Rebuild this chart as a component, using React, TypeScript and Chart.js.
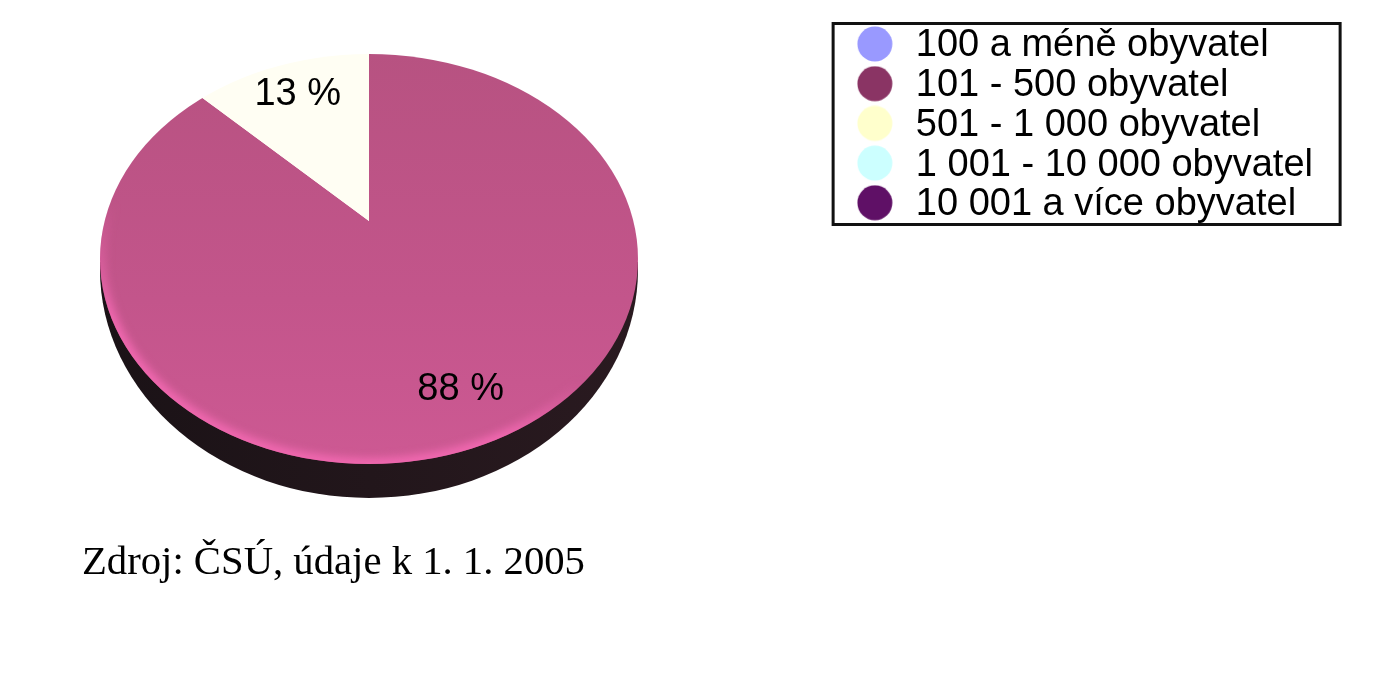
import React, { useEffect, useRef } from "react";
import { Chart, registerables } from "chart.js";

Chart.register(...registerables);

const categories = [
  "100 a méně obyvatel",
  "101 - 500 obyvatel",
  "501 - 1 000 obyvatel",
  "1 001 - 10 000 obyvatel",
  "10 001 a více obyvatel",
];
const shares = [0, 88, 13, 0, 0];
const shareLabels = ["", "88 %", "13 %", "", ""];
const labelRadii = [0, 233, 181, 0, 0];
const legendColors = ["#9999ff", "#8a3464", "#ffffcc", "#ccffff", "#5f1066"];
const sliceColors = ["#9999ff", "#c0558a", "#fffef3", "#ccffff", "#5f1066"];
const sourceNote = "Zdroj: ČSÚ, údaje k 1. 1. 2005";

const APEX = { x: 369, y: 221 };
const TOP = { cx: 369, cy: 259, rx: 269, ry: 205 };
const SIDE = { cx: 369, cy: 270, rx: 269, ry: 228 };
const SQUASH = 0.774;
const DRAW_RADIUS = 345;
const LEGEND_FONT = 38;

function dot(color: string) {
  const c = document.createElement("canvas");
  c.width = 40;
  c.height = 40;
  const g = c.getContext("2d")!;
  g.fillStyle = color;
  g.beginPath();
  g.arc(18, 18, 17.5, 0, Math.PI * 2);
  g.fill();
  return c;
}

const piePlugin = {
  id: "tiltedPie",
  beforeDatasetsDraw(chart: any) {
    const { ctx } = chart;
    const meta = chart.getDatasetMeta(0);
    const first = meta.data[0];
    const R = first.outerRadius;
    const sx = DRAW_RADIUS / R;
    const sy = sx * SQUASH;

    // side wall, only below the widest line of the top face
    ctx.save();
    ctx.beginPath();
    ctx.rect(0, TOP.cy + 3, chart.width, chart.height);
    ctx.clip();
    const wall = ctx.createLinearGradient(100, 300, 640, 300);
    wall.addColorStop(0, "#1a1216");
    wall.addColorStop(1, "#2a1a20");
    ctx.fillStyle = wall;
    ctx.beginPath();
    ctx.ellipse(SIDE.cx, SIDE.cy, SIDE.rx, SIDE.ry, 0, 0, Math.PI * 2);
    ctx.fill();
    ctx.restore();

    // top face: clipped ellipse, sectors radiate from the apex
    ctx.save();
    ctx.beginPath();
    ctx.ellipse(TOP.cx, TOP.cy, TOP.rx, TOP.ry, 0, 0, Math.PI * 2);
    ctx.clip();
    ctx.translate(APEX.x, APEX.y);
    ctx.scale(sx, sy);
    ctx.translate(-first.x, -first.y);

    const toUserY = (y: number) => (y - APEX.y) / sy + first.y;
    const grad = ctx.createLinearGradient(0, toUserY(54), 0, toUserY(464));
    grad.addColorStop(0, "#b75281");
    grad.addColorStop(0.6, "#c3558b");
    grad.addColorStop(1, "#cd5993");
    const el = meta.data[1];
    el.options = { ...el.options, backgroundColor: grad };
  },
  afterDatasetsDraw(chart: any) {
    const { ctx } = chart;
    ctx.restore();

    // soft bevel along the lit lower edge
    ctx.save();
    ctx.beginPath();
    ctx.ellipse(TOP.cx, TOP.cy, TOP.rx, TOP.ry, 0, 0, Math.PI * 2);
    ctx.clip();
    const glow = ctx.createRadialGradient(280, 470, 0, 280, 470, 315);
    glow.addColorStop(0, "rgba(243,105,178,1)");
    glow.addColorStop(0.72, "rgba(243,105,178,1)");
    glow.addColorStop(1, "rgba(243,105,178,0)");
    ctx.filter = "blur(4px)";
    ctx.strokeStyle = glow;
    ctx.lineWidth = 11;
    ctx.beginPath();
    ctx.ellipse(TOP.cx, TOP.cy, TOP.rx, TOP.ry, 0, 0, Math.PI * 2);
    ctx.stroke();
    ctx.restore();

    // percentage labels
    const meta = chart.getDatasetMeta(0);
    ctx.save();
    ctx.fillStyle = "#000";
    ctx.font = `${LEGEND_FONT}px "Liberation Sans", Arial, sans-serif`;
    ctx.textAlign = "center";
    ctx.textBaseline = "middle";
    meta.data.forEach((arc: any, i: number) => {
      if (!shareLabels[i]) return;
      const a = (arc.startAngle + arc.endAngle) / 2;
      const x = APEX.x + labelRadii[i] * Math.cos(a);
      const y = APEX.y + labelRadii[i] * SQUASH * Math.sin(a) + 2.5;
      ctx.fillText(shareLabels[i], x, y);
    });
    ctx.restore();
  },
  afterDraw(chart: any) {
    const { ctx, legend } = chart;
    ctx.save();
    ctx.strokeStyle = "#111";
    ctx.lineWidth = 3;
    ctx.strokeRect(legend.left - 22, 23.5, 507, 201);
    ctx.fillStyle = "#000";
    ctx.font = '40.7px "Liberation Serif", "Times New Roman", serif';
    ctx.textAlign = "left";
    ctx.textBaseline = "alphabetic";
    ctx.fillText(sourceNote, 82, 574);
    ctx.restore();
  },
};

export default function App() {
  const ref = useRef<HTMLCanvasElement>(null);
  useEffect(() => {
    document.body.style.margin = "0";
    const dots = legendColors.map((c) => dot(c));
    const chart = new Chart(ref.current!, {
      type: "pie",
      data: {
        labels: categories,
        datasets: [
          {
            data: shares,
            backgroundColor: sliceColors,
            borderWidth: 0,
            clip: false,
          } as any,
        ],
      },
      plugins: [piePlugin],
      options: {
        responsive: false,
        animation: false,
        rotation: 0,
        layout: { padding: { top: 25.3, right: 77, left: 0, bottom: 0 } },
        plugins: {
          title: { display: false },
          tooltip: { enabled: false },
          legend: {
            display: true,
            position: "right",
            align: "start",
            labels: {
              usePointStyle: true,
              pointStyleWidth: 40,
              padding: 1.7,
              color: "#000",
              font: {
                family: '"Liberation Sans", Arial, sans-serif',
                size: LEGEND_FONT,
                lineHeight: 1,
              },
              generateLabels: () =>
                categories.map((text, i) => ({
                  text,
                  fillStyle: legendColors[i],
                  strokeStyle: legendColors[i],
                  lineWidth: 0,
                  pointStyle: dots[i],
                  hidden: false,
                  index: i,
                })),
            },
          },
        },
      } as any,
    });
    return () => chart.destroy();
  }, []);
  return (
    <div style={{ width: 1400, height: 680 }}>
      <canvas ref={ref} width={1400} height={680} style={{ display: "block" }} />
    </div>
  );
}
